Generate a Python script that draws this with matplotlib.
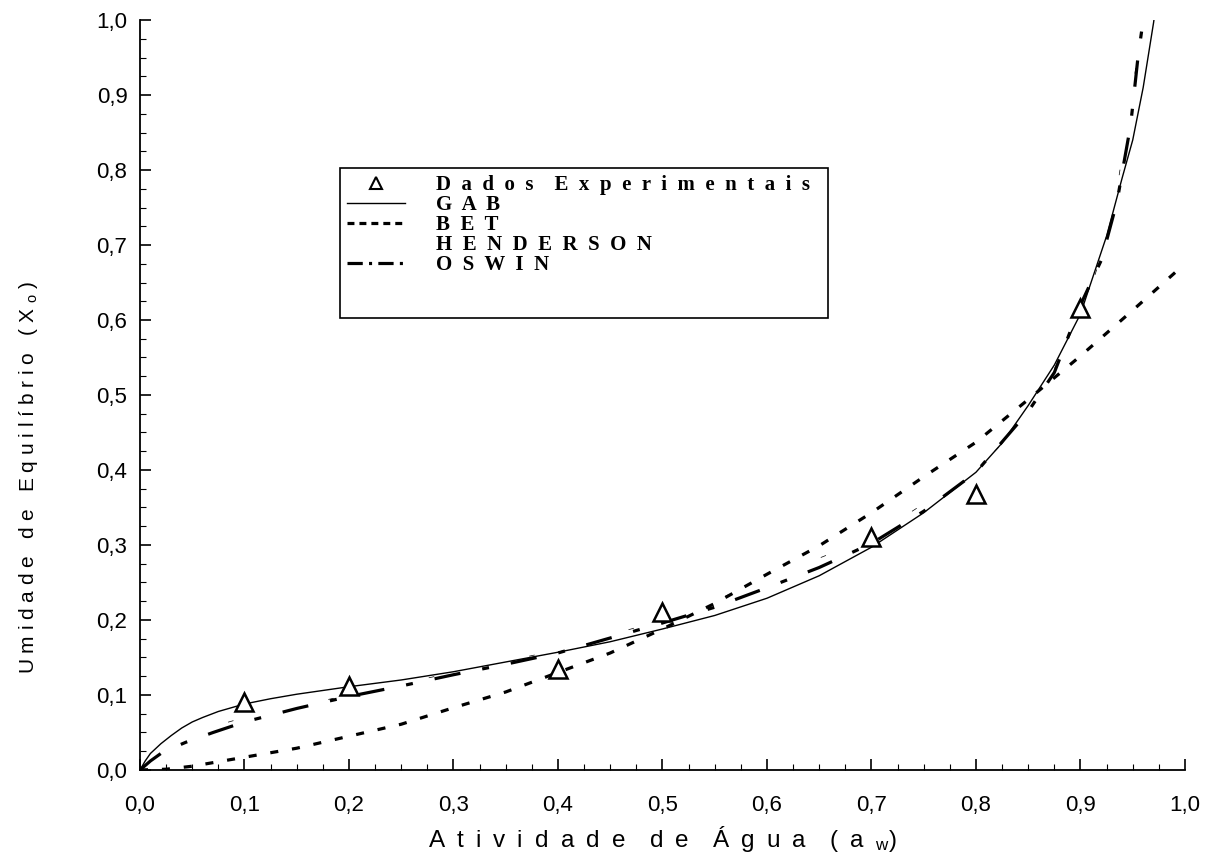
import matplotlib
matplotlib.use("Agg")
import matplotlib.pyplot as plt
from matplotlib.lines import Line2D
from matplotlib.patches import Rectangle
from matplotlib.ticker import MultipleLocator, FuncFormatter

plt.rcParams['font.family'] = ['Liberation Sans', 'DejaVu Sans']
plt.rcParams['mathtext.default'] = 'regular'
plt.rcParams['lines.scale_dashes'] = False

# experimental points
aw_exp = [0.1, 0.2, 0.4, 0.5, 0.7, 0.8, 0.9]
x_exp = [0.090, 0.112, 0.134, 0.210, 0.310, 0.368, 0.616]

# fitted curves
aw_gab = [0.0, 0.005, 0.01, 0.02, 0.03, 0.04, 0.05, 0.06, 0.075, 0.1, 0.125, 0.15, 0.175,
          0.2, 0.25, 0.3, 0.35, 0.4, 0.45, 0.5, 0.55, 0.6, 0.65, 0.7, 0.75, 0.8, 0.825,
          0.85, 0.875, 0.9, 0.925, 0.94, 0.95, 0.96, 0.97, 0.975]
x_gab = [0.0, 0.012, 0.022, 0.035, 0.046, 0.056, 0.064, 0.070, 0.078, 0.088, 0.095, 0.101,
         0.106, 0.111, 0.120, 0.131, 0.144, 0.157, 0.171, 0.188, 0.206, 0.229, 0.259,
         0.297, 0.343, 0.397, 0.436, 0.486, 0.540, 0.608, 0.712, 0.790, 0.840, 0.910,
         0.997, 1.05]

aw_bet = [0.0, 0.025, 0.05, 0.1, 0.15, 0.2, 0.25, 0.3, 0.35, 0.4, 0.45, 0.5, 0.55, 0.6,
          0.65, 0.7, 0.75, 0.8, 0.85, 0.9, 0.95, 1.0]
x_bet = [0.0, 0.001, 0.005, 0.017, 0.029, 0.045, 0.061, 0.083, 0.104, 0.130, 0.156, 0.188,
         0.222, 0.261, 0.299, 0.343, 0.391, 0.437, 0.494, 0.552, 0.613, 0.675]

aw_hen = [0.0, 0.02, 0.05, 0.1, 0.2, 0.3, 0.4, 0.5, 0.55, 0.6, 0.7, 0.8, 0.85, 0.9,
          0.93, 0.96]
x_hen = [0.0, 0.030, 0.050, 0.070, 0.100, 0.130, 0.160, 0.200, 0.226, 0.255, 0.310, 0.400,
         0.470, 0.600, 0.730, 1.0]

aw_osw = [0.0, 0.01, 0.022, 0.044, 0.07, 0.1, 0.15, 0.2, 0.25, 0.3, 0.35, 0.4, 0.45, 0.5,
          0.55, 0.6, 0.65, 0.7, 0.75, 0.8, 0.85, 0.875, 0.9, 0.92, 0.935, 0.948, 0.955,
          0.96, 0.963]
x_osw = [0.0, 0.012, 0.024, 0.037, 0.050, 0.064, 0.082, 0.098, 0.112, 0.127, 0.141, 0.156,
         0.176, 0.196, 0.217, 0.243, 0.270, 0.302, 0.345, 0.397, 0.478, 0.530, 0.620,
         0.680, 0.758, 0.860, 0.950, 1.0, 1.04]

labels = ['D  a  d  o  s    E  x  p  e  r  i  m  e  n  t  a  i  s', 'G  A  B', 'B  E  T',
          'H  E  N  D  E  R  S  O  N', 'O  S  W  I  N']
xticks = [0.0, 0.1, 0.2, 0.3, 0.4, 0.5, 0.6, 0.7, 0.8, 0.9, 1.0]

sp = '\u2002'

fig = plt.figure(figsize=(12.13, 8.63), dpi=100)
ax = fig.add_axes([0.1154, 0.1078, 0.8615, 0.869])

ax.plot(aw_hen, x_hen, color='black', lw=0.5, dashes=(4, 70))
ax.plot(aw_bet, x_bet, color='black', lw=2.3, dashes=(5.8, 10))
ax.plot(aw_osw, x_osw, color='black', lw=2.3, dashes=(19, 16, 5, 16))
ax.plot(aw_gab, x_gab, color='black', lw=1.0)
ax.plot(aw_exp, x_exp, ls='none', marker='^', ms=13, mfc='white', mec='black', mew=1.8)

ax.set_xlim(0, 1)
ax.set_ylim(0, 1)
ax.spines['top'].set_visible(False)
ax.spines['right'].set_visible(False)
ax.spines['left'].set_linewidth(1.3)
ax.spines['bottom'].set_linewidth(1.3)
ax.set_xticks(xticks)
ax.set_yticks(xticks)
ax.xaxis.set_minor_locator(MultipleLocator(0.025))
ax.yaxis.set_minor_locator(MultipleLocator(0.025))
fmt = FuncFormatter(lambda v, p: '{:.1f}'.format(v).replace('.', ','))
ax.xaxis.set_major_formatter(fmt)
ax.yaxis.set_major_formatter(fmt)
ax.tick_params(which='major', direction='in', length=8, width=1.2, labelsize=16)
ax.tick_params(axis='x', which='major', pad=18)
ax.tick_params(axis='y', which='major', pad=9)
ax.tick_params(which='minor', direction='in', length=4, width=0.8)

xlab = (sp * 2).join(sp.join(w) for w in ['Atividade', 'de', 'Água', '(a']) \
    + sp + '$_{w}$)'
ax.set_xlabel(xlab, fontsize=17.5)
ax.set_ylabel('U m i d a d e   d e   E q u i l í b r i o   ( X $_{o}$ )', fontsize=15)
ax.xaxis.set_label_coords(0.5, -0.072)
ax.yaxis.set_label_coords(-0.0957, 0.39)

handles = [
    Line2D([], [], ls='none', marker='^', ms=8, mfc='white', mec='black', mew=1.5),
    Line2D([], [], color='black', lw=1.0),
    Line2D([], [], color='black', lw=2.3, dashes=(5, 3.6)),
    Line2D([], [], color='none'),
    Line2D([], [], color='black', lw=2.3, dashes=(11, 4.5, 2.2, 4.5)),
]
ax.legend(handles, labels, loc='upper left', bbox_to_anchor=(0.191, 0.803),
          prop={'family': 'Liberation Serif', 'weight': 'bold', 'size': 15},
          frameon=False, handlelength=2.8, labelspacing=0.0, borderpad=0.35,
          handletextpad=1.5, borderaxespad=0)
# legend box, taller than the entries as in the original
ax.add_patch(Rectangle((0.191, 0.603), 0.467, 0.200, transform=ax.transAxes,
                       fill=False, edgecolor='black', lw=1.2, zorder=5))

fig.savefig('out.png', dpi=100)
